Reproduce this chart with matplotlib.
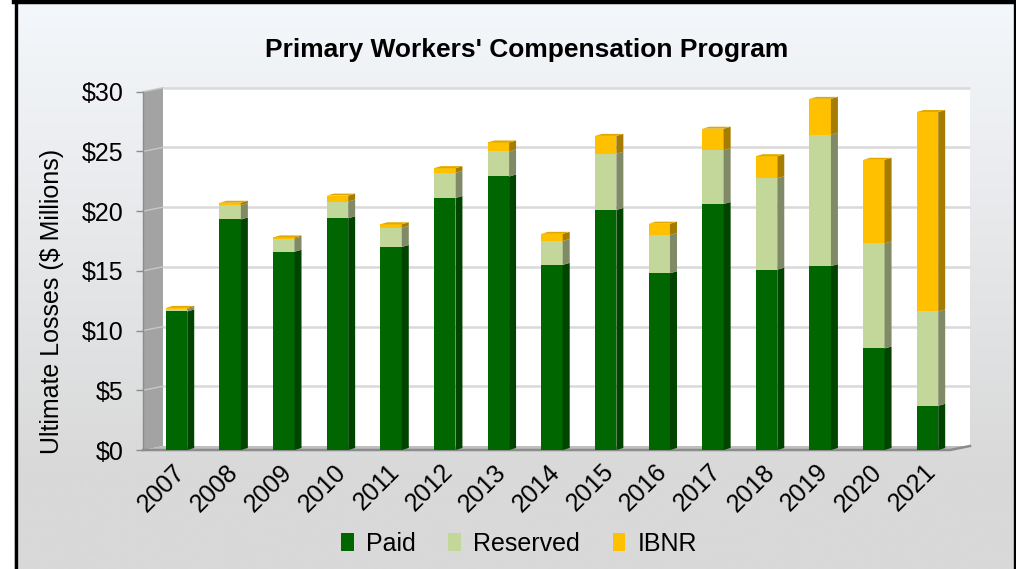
import numpy as np
import matplotlib
matplotlib.use("Agg")
import matplotlib.pyplot as plt
from matplotlib.patches import Polygon, Rectangle, Patch
from matplotlib.lines import Line2D
from matplotlib.transforms import ScaledTranslation

plt.rcParams['font.family'] = ['Liberation Sans', 'DejaVu Sans']

# --- data ($ millions) ---
years = ['2007', '2008', '2009', '2010', '2011', '2012', '2013', '2014',
         '2015', '2016', '2017', '2018', '2019', '2020', '2021']
paid = [11.6, 19.3, 16.6, 19.4, 17.0, 21.1, 22.9, 15.5,
        20.1, 14.8, 20.6, 15.1, 15.4, 8.5, 3.7]
reserved = [0.2, 1.2, 1.1, 1.4, 1.6, 2.1, 2.1, 2.0,
            4.7, 3.2, 4.5, 7.65, 11.0, 8.8, 7.9]
ibnr = [0.1, 0.2, 0.1, 0.5, 0.3, 0.4, 0.75, 0.6,
        1.5, 0.95, 1.8, 1.85, 3.0, 7.0, 16.7]

series = [('Paid', paid, '#006600', '#004400', '#005200'),
          ('Reserved', reserved, '#C4D79B', '#808A66', '#AFC189'),
          ('IBNR', ibnr, '#FFC000', '#A67C00', '#E0A800')]

W, H = 1016, 569
fig = plt.figure(figsize=(W / 100, H / 100), dpi=100)
fig.patch.set_facecolor('white')

# --- background gradient inside the frame ---
bg = fig.add_axes([14 / W, 0, 1 - 14 / W, 1])
bg.set_axis_off()
rows = np.linspace(0, 1, 256)
top_c = np.array([0xF4, 0xF7, 0xFB]) / 255
bot_c = np.array([0xD9, 0xD9, 0xD9]) / 255
t = np.clip(rows / 0.83, 0, 1)[:, None]
grad = top_c * (1 - t) + bot_c * t
bg.imshow(grad[:, None, :], aspect='auto', extent=[0, 1, 1, 0])
bg.set_xlim(0, 1)
bg.set_ylim(1, 0)

# frame lines
def px_line(x0, y0, x1, y1, lw):
    fig.add_artist(Line2D([x0 / W, x1 / W], [1 - y0 / H, 1 - y1 / H],
                          color='black', lw=lw, transform=fig.transFigure))

px_line(15.5, 0, 15.5, H, 2.4)
px_line(14, 2, W, 2, 3.2)
px_line(1014.5, 0, 1014.5, H, 2.4)

# --- main axes (front plane) ---
left_px, right_px, bot_px, top_px = 143, 950, 450, 91.7
ax = fig.add_axes([left_px / W, 1 - bot_px / H,
                   (right_px - left_px) / W, (bot_px - top_px) / H])
ax.patch.set_visible(False)
x = np.arange(len(years))
xlo, xhi = -0.6245, 14.42
ax.set_xlim(xlo, xhi)
ax.set_ylim(0, 30)
for s in ax.spines.values():
    s.set_visible(False)

ux = (right_px - left_px) / (xhi - xlo)   # px per x unit
uy = (bot_px - top_px) / 30.0             # px per dollar

# wall depth and bar depth (px)
wdx, wdy = 20 / ux, 4 / uy
bdx, bdy = 7 / ux, 2 / uy

# back wall
ax.add_patch(Rectangle((xlo + wdx, wdy), xhi - xlo, 30, facecolor='white',
                       edgecolor='none', zorder=0, clip_on=False))
# left side wall
ax.add_patch(Polygon([(xlo, 0), (xlo + wdx, wdy), (xlo + wdx, 30 + wdy), (xlo, 30)],
                     closed=True, facecolor='#A3A3A3', edgecolor='none',
                     zorder=0.5, clip_on=False))
# floor
ax.add_patch(Polygon([(xlo, 0), (xhi, 0), (xhi + wdx, wdy), (xlo + wdx, wdy)],
                     closed=True, facecolor='#BFBFBF', edgecolor='none',
                     zorder=0.5, clip_on=False))

yt = np.arange(0, 35, 5)
for v in yt[1:]:
    ax.plot([xlo + wdx, xhi + wdx], [v + wdy, v + wdy], color='#D9D9D9',
            lw=1.8, zorder=0.6, clip_on=False, solid_capstyle='butt')
    ax.plot([xlo, xlo + wdx], [v, v + wdy], color='#C8C8C8', lw=1.0,
            zorder=0.6, clip_on=False)

# axis lines
ax.plot([xlo, xhi, xhi + wdx], [0, 0, wdy], color='#8C8C8C', lw=1.8,
        zorder=0.7, clip_on=False)
ax.plot([xlo, xlo], [0, 30], color='#8C8C8C', lw=1.0, zorder=0.7, clip_on=False)

# --- 3D-look stacked bars ---
bw = 0.40
bottoms = np.zeros(len(years))
for name, vals, front, side, topc in series:
    vals = np.array(vals)
    ax.bar(x, vals, bw, bottom=bottoms, color=front, edgecolor='none', zorder=2)
    for i in range(len(x)):
        xr = x[i] + bw / 2
        y0, y1 = bottoms[i], bottoms[i] + vals[i]
        ax.add_patch(Polygon([(xr, y0), (xr + bdx, y0 + bdy), (xr + bdx, y1 + bdy), (xr, y1)],
                             closed=True, facecolor=side, edgecolor='none', zorder=2))
        if name == 'IBNR':
            xl = x[i] - bw / 2
            ax.add_patch(Polygon([(xl, y1), (xr, y1), (xr + bdx, y1 + bdy), (xl + bdx, y1 + bdy)],
                                 closed=True, facecolor=topc, edgecolor='none', zorder=2.1))
    bottoms = bottoms + vals

# ticks and labels
ax.set_yticks(yt)
ax.set_yticklabels(['$%d' % v for v in yt], fontsize=18)
ax.tick_params(axis='y', length=5, color='#8C8C8C', width=1, pad=9)
ax.set_xticks(x)
ax.set_xticklabels(years, rotation=45, ha='right', rotation_mode='anchor', fontsize=18)
ax.tick_params(axis='x', length=0, pad=7)
off = ScaledTranslation(-3 / 72, 0, fig.dpi_scale_trans)
for lab in ax.get_xticklabels():
    lab.set_transform(lab.get_transform() + off)

fig.text(52 / W, 1 - 301 / H, 'Ultimate Losses ($ Millions)', rotation=90,
         ha='center', va='center', fontsize=18)
fig.text(527 / W, 1 - 50 / H, "Primary Workers' Compensation Program",
         ha='center', va='center', fontsize=19, fontweight='bold')

handles = [Patch(facecolor=s[2], edgecolor='none') for s in series]
fig.legend(handles, [s[0] for s in series], loc='center', ncol=3,
           bbox_to_anchor=(519 / W, 1 - 544 / H), frameon=False, fontsize=18,
           handlelength=0.5, handleheight=0.75, handletextpad=0.5, columnspacing=1.3)

fig.savefig('out.png', dpi=100)
